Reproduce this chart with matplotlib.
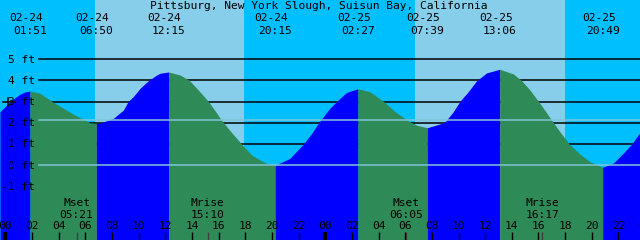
import matplotlib
matplotlib.use("Agg")
import matplotlib.pyplot as plt
import matplotlib.transforms as mtransforms
import numpy as np

# # data (hours from 02-24 00:00, height in ft)
hours = [-0.40, -0.02, 0.35, 0.73, 1.10, 1.48, 1.85,
         2.60, 3.48, 4.35, 5.10, 5.85, 6.35, 6.83,
         7.10, 8.10, 8.85, 9.23, 9.60, 10.11, 10.73, 11.36, 11.61, 12.25,
         13.11, 13.80, 14.48, 15.23, 15.73, 16.23, 16.98, 17.73, 18.48,
         19.11, 19.61, 20.25,
         21.36, 22.36, 22.99, 23.48, 24.36, 25.11, 25.61, 26.45,
         27.36, 28.36, 29.24, 30.11, 30.86, 31.65,
         32.61, 32.98, 33.61, 34.11, 34.73, 35.36, 36.11, 37.10,
         38.11, 38.74, 39.36, 39.99, 40.49, 40.99, 41.61, 42.31, 43.11,
         43.86, 44.82,
         45.61, 46.36, 46.99, 47.61]
feet = [2.53, 2.76, 3.00, 3.19, 3.35, 3.46, 3.50,
        3.40, 3.02, 2.69, 2.41, 2.17, 2.01, 1.97,
        1.99, 2.21, 2.60, 3.02, 3.24, 3.63, 3.99, 4.26, 4.34, 4.40,
        4.26, 4.01, 3.55, 3.02, 2.58, 2.12, 1.54, 1.00, 0.49,
        0.25, 0.09, 0.00,
        0.33, 1.00, 1.51, 1.98, 2.70, 3.16, 3.44, 3.61,
        3.47, 3.02, 2.53, 2.14, 1.89, 1.77,
        1.95, 2.04, 2.53, 3.02, 3.47, 3.99, 4.36, 4.53,
        4.31, 3.99, 3.55, 3.02, 2.58, 2.12, 1.58, 1.00, 0.53,
        0.17, -0.09,
        0.10, 0.57, 1.00, 1.54]

event_hours = [1.85, 6.83, 12.25, 20.25, 26.45, 31.65, 37.10, 44.82]
event_kinds = ["high", "low", "high", "low", "high", "low", "high", "low"]
event_dates = ["02-24", "02-24", "02-24", "02-24", "02-25", "02-25", "02-25", "02-25"]
event_times = ["01:51", "06:50", "12:15", "20:15", "02:27", "07:39", "13:06", "20:49"]

sunrise_hours = [6.73, 30.72]
sunset_hours = [17.92, 41.97]

moon_hours = [5.35, 15.17, 30.08, 40.28]
moon_names = ["Mset", "Mrise", "Mset", "Mrise"]
moon_times = ["05:21", "15:10", "06:05", "16:17"]

grid_levels = [1, 2, 3, 4, 5]
label_levels = [5, 4, 3, 2, 1, 0, -1]
msl_level = 2.12
datum_level = 0.0

title = "Pittsburg, New York Slough, Suisun Bay, California"

# # colours
night = "#00BFFF"
day = "#87CEEB"
flood = "#0000FF"
ebb = "#2E8B57"
light_line = "#7FC4D8"

FONT = dict(family="DejaVu Sans Mono", size=8.1, color="black")


def main():
  fig = plt.figure(figsize=(6.4, 2.4), dpi=100)
  ax = fig.add_axes([0, 0, 1, 1])
  ax.set_axis_off()
  x0, x1 = -0.3976, 47.615
  y0, y1 = -3.524, 7.797
  ax.set_xlim(x0, x1)
  ax.set_ylim(y0, y1)

  # # sky
  ax.axvspan(x0, x1, color=night, lw=0, zorder=0)
  for rise, sset in zip(sunrise_hours, sunset_hours):
    ax.axvspan(rise, sset, color=day, lw=0, zorder=0)

  # # grid lines behind the water
  for lvl in grid_levels:
    ax.axhline(lvl, xmin=39 / 640, xmax=1, color="black", lw=1.1, zorder=1)

  # # water, green while falling, blue while rising
  t = np.array(hours)
  h = np.array(feet)
  bounds = [t[0]] + event_hours + [t[-1]]
  for i in range(len(bounds) - 1):
    m = (t >= bounds[i]) & (t <= bounds[i + 1])
    if i < len(event_kinds):
      col = flood if event_kinds[i] == "high" else ebb
    else:
      col = flood if event_kinds[-1] == "low" else ebb
    ax.fill_between(t[m], h[m], y0 - 1, color=col, lw=0, zorder=2)

  ax.axhline(msl_level, xmin=39 / 640, xmax=1, color=light_line, lw=1.1, zorder=3)
  ax.axhline(datum_level, xmin=39 / 640, xmax=1, color=light_line, lw=1.1, zorder=3)

  # # odd little cross near the 3 ft label
  ax.plot([-0.17, 0.73], [3, 3], color="black", lw=1.1, zorder=4)
  ax.plot([0.23, 0.23], [2.81, 3.19], color="black", lw=1.1, zorder=4)

  # # y labels
  ylab = mtransforms.offset_copy(
    mtransforms.blended_transform_factory(ax.transAxes, ax.transData),
    fig=fig, x=0, y=-3.4, units="dots")
  for lvl in label_levels:
    ax.text(35 / 640, lvl, "%d ft" % lvl, transform=ylab, ha="right",
            va="baseline", zorder=5, **FONT)

  # # top labels
  fig.text(318.7 / 640, 1 - 9.0 / 240, title, ha="center", va="baseline", **FONT)
  top = mtransforms.blended_transform_factory(ax.transData, ax.transAxes)
  date_tr = mtransforms.offset_copy(top, fig=fig, x=-4, y=0, units="dots")
  for eh, d, tm in zip(event_hours, event_dates, event_times):
    ax.text(eh, 1 - 20.9 / 240, d, transform=date_tr, ha="center",
            va="baseline", zorder=5, **FONT)
    ax.text(eh, 1 - 34.3 / 240, tm, transform=top, ha="center",
            va="baseline", zorder=5, **FONT)

  # # moon
  for mh, nm, tm in zip(moon_hours, moon_names, moon_times):
    ax.text(mh, 1 - 205.7 / 240, nm, transform=top, ha="center",
            va="baseline", zorder=5, **FONT)
    ax.text(mh, 1 - 217.7 / 240, tm, transform=top, ha="center",
            va="baseline", zorder=5, **FONT)
    ax.vlines(mh, 0, 8 / 240, transform=top, color="#404040", lw=1, zorder=5)

  # # hour ticks
  for hr in range(0, 49, 2):
    lw = 3 if hr % 24 == 0 else 1
    ax.vlines(hr, 0, 8 / 240, transform=top, color="black", lw=lw, zorder=5)
    ax.text(hr, 1 - 229.3 / 240, "%02d" % (hr % 24), transform=top,
            ha="center", va="baseline", zorder=5, clip_on=False, **FONT)

  fig.savefig("out.png", dpi=100)


if __name__ == "__main__":
  main()
